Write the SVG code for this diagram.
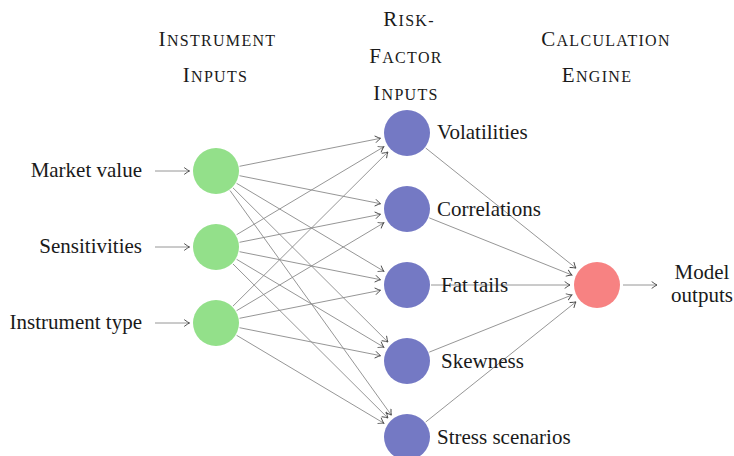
<svg xmlns="http://www.w3.org/2000/svg" width="734" height="456" viewBox="0 0 734 456">
  <style>
    .lbl { font-family: "Liberation Serif", "Times New Roman", serif; font-size: 21px; fill: #1a1a1a; }
    .hd { font-family: "Liberation Serif", "Times New Roman", serif; fill: #1a1a1a; text-anchor: middle; letter-spacing: 1.3px; }
    .big { font-size: 21px; }
    .sm { font-size: 16px; }
    .edge { stroke: #8a8a8a; stroke-width: 0.9; fill: none; marker-end: url(#tip); }
    .inst { fill: #93e08a; }
    .risk { fill: #7479c4; }
    .calc { fill: #f78282; }
  </style>
  <defs>
    <marker id="tip" viewBox="-6 -4 7 8" refX="0" refY="0" markerWidth="7" markerHeight="8" markerUnits="userSpaceOnUse" orient="auto">
      <path d="M-5,-3.2 Q-1.5,-0.6 0,0 Q-1.5,0.6 -5,3.2" fill="none" stroke="#444" stroke-width="0.9" stroke-linecap="round"/>
    </marker>
  </defs>

  <rect width="734" height="456" fill="#ffffff"/>

  <!-- column headers -->
  <g id="header-instrument">
    <text class="hd" x="217.5" y="45.7"><tspan class="big">I</tspan><tspan class="sm">NSTRUMENT</tspan></text>
    <text class="hd" x="215.5" y="81.7"><tspan class="big">I</tspan><tspan class="sm">NPUTS</tspan></text>
  </g>
  <g id="header-risk">
    <text class="hd" x="409" y="26"><tspan class="big">R</tspan><tspan class="sm">ISK-</tspan></text>
    <text class="hd" x="406" y="63"><tspan class="big">F</tspan><tspan class="sm">ACTOR</tspan></text>
    <text class="hd" x="406" y="100"><tspan class="big">I</tspan><tspan class="sm">NPUTS</tspan></text>
  </g>
  <g id="header-engine">
    <text class="hd" x="606" y="46"><tspan class="big">C</tspan><tspan class="sm">ALCULATION</tspan></text>
    <text class="hd" x="597" y="82"><tspan class="big">E</tspan><tspan class="sm">NGINE</tspan></text>
  </g>

  <!-- connectors -->
  <g id="connectors">
    <!-- external inputs -->
    <line class="edge" x1="155" y1="171" x2="189.5" y2="171"/>
    <line class="edge" x1="155" y1="247" x2="189.5" y2="247"/>
    <line class="edge" x1="155" y1="323" x2="189.5" y2="323"/>
    <!-- market value -->
    <line class="edge" x1="239.5" y1="166.3" x2="380.5" y2="138.3"/>
    <line class="edge" x1="239.5" y1="175.7" x2="380.5" y2="203.7"/>
    <line class="edge" x1="236.6" y1="183.3" x2="383.8" y2="271.2"/>
    <line class="edge" x1="233.0" y1="187.9" x2="387.9" y2="342.0"/>
    <line class="edge" x1="230.0" y1="190.5" x2="391.3" y2="415.1"/>
    <!-- sensitivities -->
    <line class="edge" x1="236.6" y1="234.7" x2="383.8" y2="146.8"/>
    <line class="edge" x1="239.5" y1="242.3" x2="380.5" y2="214.3"/>
    <line class="edge" x1="239.5" y1="251.7" x2="380.5" y2="279.7"/>
    <line class="edge" x1="236.6" y1="259.3" x2="383.8" y2="347.2"/>
    <line class="edge" x1="233.0" y1="264.0" x2="387.9" y2="418.0"/>
    <!-- instrument type -->
    <line class="edge" x1="233.0" y1="306.1" x2="387.9" y2="152.0"/>
    <line class="edge" x1="236.6" y1="310.7" x2="383.8" y2="222.8"/>
    <line class="edge" x1="239.5" y1="318.3" x2="380.5" y2="290.3"/>
    <line class="edge" x1="239.5" y1="327.7" x2="380.5" y2="355.7"/>
    <line class="edge" x1="236.6" y1="335.3" x2="383.8" y2="423.2"/>
    <!-- risk factors to engine -->
    <line class="edge" x1="425.7" y1="148.0" x2="575.9" y2="268.1"/>
    <line class="edge" x1="429.3" y1="217.9" x2="571.9" y2="275.0"/>
    <line class="edge" x1="431" y1="285" x2="570" y2="285"/>
    <line class="edge" x1="429.3" y1="352.1" x2="571.9" y2="295.0"/>
    <line class="edge" x1="425.7" y1="422.0" x2="575.9" y2="301.9"/>
    <!-- engine output -->
    <line class="edge" x1="623" y1="285" x2="657" y2="285"/>
  </g>

  <!-- instrument inputs -->
  <g id="market-value">
    <circle class="inst" cx="216" cy="171" r="23"/>
    <text class="lbl" x="142" y="177" text-anchor="end">Market value</text>
  </g>
  <g id="sensitivities">
    <circle class="inst" cx="216" cy="247" r="23"/>
    <text class="lbl" x="142" y="253" text-anchor="end">Sensitivities</text>
  </g>
  <g id="instrument-type">
    <circle class="inst" cx="216" cy="323" r="23"/>
    <text class="lbl" x="142" y="329" text-anchor="end">Instrument type</text>
  </g>

  <!-- risk-factor inputs -->
  <g id="volatilities">
    <circle class="risk" cx="407" cy="133" r="23"/>
    <text class="lbl" x="437" y="139">Volatilities</text>
  </g>
  <g id="correlations">
    <circle class="risk" cx="407" cy="209" r="23"/>
    <text class="lbl" x="437" y="215.5">Correlations</text>
  </g>
  <g id="fat-tails">
    <circle class="risk" cx="407" cy="285" r="23"/>
    <text class="lbl" x="441" y="291.5">Fat tails</text>
  </g>
  <g id="skewness">
    <circle class="risk" cx="407" cy="361" r="23"/>
    <text class="lbl" x="441" y="368">Skewness</text>
  </g>
  <g id="stress-scenarios">
    <circle class="risk" cx="407" cy="437" r="23"/>
    <text class="lbl" x="437" y="444">Stress scenarios</text>
  </g>

  <!-- calculation engine -->
  <g id="engine">
    <circle class="calc" cx="597" cy="285" r="23"/>
  </g>
  <g id="model-outputs">
    <text class="lbl" x="702" y="279" text-anchor="middle">Model</text>
    <text class="lbl" x="702" y="302" text-anchor="middle">outputs</text>
  </g>
</svg>
